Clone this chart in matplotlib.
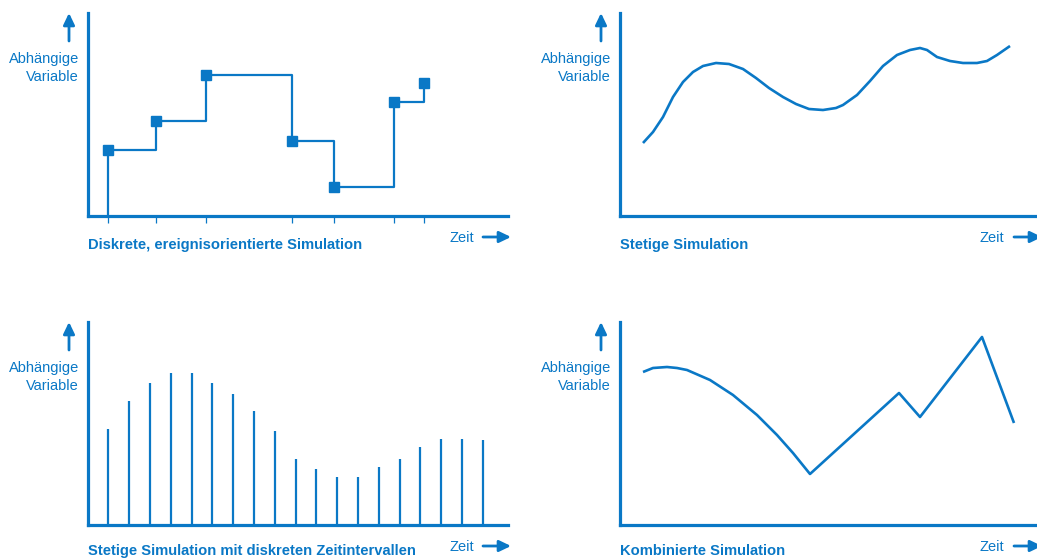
import matplotlib
matplotlib.use("Agg")
import matplotlib.pyplot as plt
from matplotlib.patches import FancyArrowPatch

plt.rcParams['font.family'] = ['Liberation Sans', 'DejaVu Sans']

BLUE = '#0A78C6'
W, H = 1037, 559

# diskrete, ereignisorientierte Simulation (Ereigniszeitpunkte und Werte)
event_times = [20, 68, 118, 204, 246, 306, 336]
event_values = [66, 95, 141, 75, 29, 114, 133]

# stetige Simulation
cont_times = [23, 33, 43, 53, 63, 73, 83, 96, 109, 123, 136, 149, 163, 176, 189,
              203, 216, 223, 237, 250, 263, 277, 290, 300, 307, 317, 330, 343,
              357, 367, 377, 390]
cont_values = [73, 84, 99, 119, 134, 144, 150, 153, 152, 147, 138, 128, 119, 112, 107,
               106, 108, 111, 121, 135, 150, 161, 166, 168, 166, 159, 155, 153,
               153, 155, 161, 170]

# stetige Simulation mit diskreten Zeitintervallen
interval_times = [20, 41, 62, 83, 104, 124, 145, 166, 187, 208, 228, 249, 270, 291,
                  312, 332, 353, 374, 395]
interval_values = [96, 124, 142, 152, 152, 142, 131, 114, 94, 66, 56, 48, 48, 58,
                   66, 78, 86, 86, 85]

# kombinierte Simulation
comb_times = [23, 33, 47, 57, 67, 90, 113, 137, 157, 173, 190, 279, 300, 362, 394]
comb_values = [153, 157, 158, 157, 155, 145, 130, 110, 90, 72, 51, 132, 108, 188, 102]

fig = plt.figure(figsize=(W / 100, H / 100), dpi=100)


def fp(x, y):
    # Pixelposition (von oben links) -> Figure-Koordinaten
    return (x / W, 1 - y / H)


def arrow(x0, y0, x1, y1):
    fig.add_artist(FancyArrowPatch(
        fp(x0, y0), fp(x1, y1), transform=fig.transFigure,
        arrowstyle='-|>,head_length=0.5,head_width=0.24', mutation_scale=14,
        color=BLUE, lw=2.0, shrinkA=0, shrinkB=0))


def make_panel(left, top, right, bottom, title, zeit_x, title_off=29):
    ax = fig.add_axes([left / W, 1 - bottom / H, (right - left) / W, (bottom - top) / H])
    ax.set_xlim(0, right - left)
    ax.set_ylim(0, bottom - top)
    for s in ['top', 'right']:
        ax.spines[s].set_visible(False)
    for s in ['left', 'bottom']:
        ax.spines[s].set_linewidth(2.3)
        ax.spines[s].set_color(BLUE)
    ax.set_xticks([])
    ax.set_yticks([])
    ax.patch.set_alpha(0)

    # y-Pfeil und Beschriftung
    arrow(left - 19, top + 28, left - 19, top)
    fig.text(*fp(left - 9, top + 46), 'Abhängige', ha='right', va='center',
             color=BLUE, fontsize=10.5)
    fig.text(*fp(left - 9, top + 64), 'Variable', ha='right', va='center',
             color=BLUE, fontsize=10.5)

    # Zeit-Pfeil
    fig.text(*fp(zeit_x, bottom + 22), 'Zeit', ha='left', va='center',
             color=BLUE, fontsize=10.5)
    arrow(zeit_x + 34, bottom + 21, zeit_x + 62, bottom + 21)

    fig.text(*fp(left, bottom + title_off), title, ha='left', va='center',
             color=BLUE, fontsize=10.6, fontweight='bold')
    return ax


# Panel 1
ax1 = make_panel(88, 13, 508, 216, 'Diskrete, ereignisorientierte Simulation', 449)
ax1.vlines(event_times[0], 0, event_values[0], color=BLUE, lw=1.6)
ax1.step(event_times, event_values, where='post', color=BLUE, lw=1.6)
ax1.plot(event_times, event_values, 's', color=BLUE, ms=7.5, lw=0)
ax1.set_xticks(event_times)
ax1.tick_params(axis='x', length=5, width=0.9, color=BLUE, labelbottom=False)

# Panel 2
ax2 = make_panel(620, 13, 1037, 216, 'Stetige Simulation', 980)
ax2.plot(cont_times, cont_values, color=BLUE, lw=1.9, solid_capstyle='butt',
         solid_joinstyle='round')

# Panel 3
ax3 = make_panel(88, 322, 508, 525, 'Stetige Simulation mit diskreten Zeitintervallen',
                 449, title_off=26)
ax3.vlines(interval_times, 0, interval_values, color=BLUE, lw=1.6)

# Panel 4
ax4 = make_panel(620, 322, 1037, 525, 'Kombinierte Simulation', 980, title_off=26)
ax4.plot(comb_times, comb_values, color=BLUE, lw=1.9, solid_capstyle='butt')

fig.savefig('out.png', dpi=100)
